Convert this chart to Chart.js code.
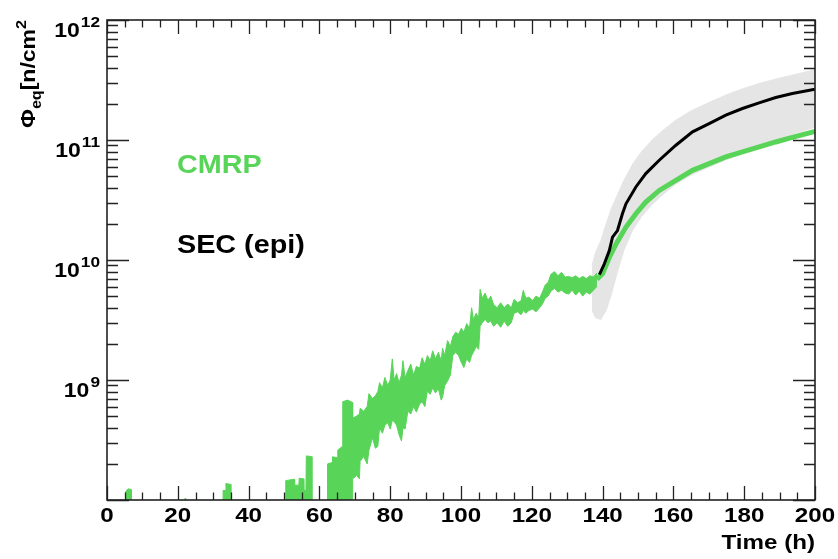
<!DOCTYPE html>
<html>
<head>
<meta charset="utf-8">
<script src="https://cdn.jsdelivr.net/npm/chart.js@4.4.1/dist/chart.umd.min.js"></script>
<style>
  html, body { margin: 0; padding: 0; background: #fff; }
  #wrap { width: 838px; height: 559px; }
</style>
</head>
<body>
<div id="wrap"><canvas id="c" width="838" height="559"></canvas></div>
<script>
// values below the axis floor (drawn, then clipped away)
const FLOOR = 5e7;

// CMRP measurement: min/max envelope per time step (h)
const greenT = [0, 5.2, 5.3, 6.0, 6.8, 6.9, 21.9, 22.0, 22.3, 22.4, 32.7, 32.8, 33.5, 33.6, 34.9, 35.0,
  50.4, 50.5, 52.9, 53.0, 54.2, 54.3, 55.5, 55.6, 56.2, 56.3, 57.8, 57.9, 62.2, 62.3, 63.6, 63.7,
  65.1, 65.2, 66.5, 66.6, 68.0, 69.3, 69.4, 70.5, 71.3, 71.5, 72.5, 73.5, 74.0, 75.0, 75.8, 76.5,
  77.0, 77.8, 78.5, 79.3, 80.0, 80.6, 81.1, 81.8, 82.5, 83.2, 83.6, 84.2, 85.0, 85.8, 86.6, 87.4,
  88.3, 89.0, 89.8, 90.5, 91.3, 92.0, 92.8, 93.6, 94.4, 94.8, 95.4, 96.2, 97.0, 97.7, 98.5, 99.3,
  100.1, 100.8, 101.6, 102.4, 103.0, 103.5, 104.3, 105.0, 105.4, 106.0, 106.8, 107.6, 108.4, 109.2,
  110.2, 111.2, 112.2, 113.2, 114.2, 115.0, 116.0, 117.0, 117.6, 118.3, 119.2, 120.2, 121.2, 122.2,
  123.0, 123.8, 124.6, 125.4, 126.4, 127.4, 128.4, 129.4, 130.4, 131.4, 132.4, 133.4, 134.4, 135.4,
  136.4, 137.4, 138.4];
const greenLo = [FLOOR, FLOOR, FLOOR, FLOOR, FLOOR, FLOOR, FLOOR, FLOOR, FLOOR, FLOOR, FLOOR, FLOOR, FLOOR, FLOOR, FLOOR, FLOOR,
  FLOOR, FLOOR, FLOOR, FLOOR, FLOOR, FLOOR, FLOOR, FLOOR, FLOOR, FLOOR, FLOOR, FLOOR, FLOOR, FLOOR, FLOOR, FLOOR,
  FLOOR, FLOOR, FLOOR, FLOOR, FLOOR, FLOOR, 1.5e8, 1.6e8, 1.5e8, 2.1e8, 2.3e8, 2.0e8, 2.6e8, 3.3e8, 2.7e8, 2.8e8,
  4.0e8, 3.6e8, 4.2e8, 4.4e8, 3.9e8, 4.6e8, 4.5e8, 4.2e8, 3.5e8, 3.1e8, 4.0e8, 3.9e8, 5.5e8, 5.2e8, 6.0e8, 5.4e8,
  6.3e8, 6.6e8, 6.0e8, 8.1e8, 7.6e8, 8.6e8, 7.8e8, 8.5e8, 6.8e8, 7.2e8, 9.0e8, 9.8e8, 1.1e9, 1.6e9, 1.7e9, 1.6e9,
  1.4e9, 1.27e9, 1.5e9, 1.4e9, 1.6e9, 1.7e9, 1.9e9, 1.8e9, 2.8e9, 3.0e9, 3.2e9, 3.0e9, 3.1e9, 2.8e9,
  3.0e9, 2.75e9, 3.1e9, 2.8e9, 3.0e9, 3.6e9, 3.7e9, 3.5e9, 3.8e9, 3.6e9, 3.8e9, 3.9e9, 3.7e9, 4.0e9,
  4.3e9, 4.8e9, 5.0e9, 5.5e9, 5.8e9, 5.4e9, 5.6e9, 5.3e9, 5.2e9, 5.6e9, 5.1e9, 5.5e9, 5.0e9, 5.4e9,
  5.2e9, 5.6e9, 6.0e9];
const greenHi = [FLOOR, FLOOR, 1.18e8, 1.24e8, 1.22e8, FLOOR, FLOOR, 1.03e8, 1.03e8, FLOOR, FLOOR, 1.2e8, 1.2e8, 1.37e8, 1.35e8, FLOOR,
  FLOOR, 1.45e8, 1.49e8, 1.33e8, 1.33e8, 1.52e8, 1.5e8, 1.2e8, 1.2e8, 2.33e8, 2.3e8, FLOOR, FLOOR, 2.0e8, 2.05e8, 2.29e8,
  2.25e8, 2.6e8, 2.8e8, 6.6e8, 6.8e8, 6.5e8, 4.8e8, 5.0e8, 5.2e8, 5.8e8, 5.5e8, 6.0e8, 7.7e8, 7.0e8, 7.4e8, 8.0e8,
  9.5e8, 8.6e8, 1.05e9, 9.0e8, 1.0e9, 1.5e9, 1.0e9, 1.13e9, 9.5e8, 1.1e9, 1.45e9, 1.05e9, 1.2e9, 1.36e9, 1.1e9, 1.3e9,
  1.25e9, 1.53e9, 1.35e9, 1.6e9, 1.45e9, 1.75e9, 1.5e9, 1.7e9, 1.45e9, 1.84e9, 1.6e9, 2.13e9, 1.9e9, 2.3e9, 2.5e9, 2.4e9,
  2.7e9, 2.5e9, 2.95e9, 2.7e9, 4.0e9, 3.2e9, 3.6e9, 3.3e9, 5.7e9, 4.8e9, 5.3e9, 4.6e9, 5.0e9, 4.25e9,
  4.0e9, 4.4e9, 4.0e9, 4.3e9, 4.0e9, 4.7e9, 4.4e9, 4.6e9, 5.6e9, 4.8e9, 4.9e9, 4.6e9, 5.0e9, 4.8e9,
  5.4e9, 6.2e9, 6.5e9, 7.6e9, 8.0e9, 7.4e9, 7.9e9, 7.2e9, 7.3e9, 7.1e9, 7.4e9, 7.0e9, 7.3e9, 7.0e9,
  7.4e9, 7.2e9, 7.8e9];

// CMRP after the ramp-up (smooth part)
const cmrpT = [138.4, 140.0, 141.9, 143.8, 146.6, 149.4, 152.2, 156.0, 160.7, 165.4, 170.1, 174.8, 179.5, 184.2, 188.9, 193.6, 200.0];
const cmrpVal = [6.9e9, 7.7e9, 1.05e10, 1.36e10, 1.88e10, 2.43e10, 3.04e10, 3.8e10, 4.61e10, 5.59e10, 6.35e10, 7.22e10, 7.95e10, 8.75e10, 9.63e10, 1.05e11, 1.18e11];

// SEC (epi) and its uncertainty band
const secT = [139.1, 140.5, 141.9, 142.8, 144.2, 145.6, 146.6, 149.4, 152.2, 156.0, 160.7, 165.4, 170.1, 174.8, 179.5, 184.2, 188.9, 193.6, 200.0];
const secVal = [7.57e9, 9.3e9, 1.2e10, 1.55e10, 1.76e10, 2.43e10, 2.94e10, 4.06e10, 5.25e10, 6.78e10, 9.04e10, 1.17e11, 1.37e11, 1.61e11, 1.83e11, 2.04e11, 2.26e11, 2.44e11, 2.65e11];
const bandT = [137.0, 138.0, 139.5, 141.0, 142.5, 144.0, 146.0, 148.5, 151.0, 154.0, 157.0, 160.5, 165.0, 170.0, 175.0, 180.0, 185.0, 190.0, 195.0, 200.0];
const bandHi = [9.0e9, 1.15e10, 1.45e10, 2.0e10, 2.7e10, 3.4e10, 4.6e10, 6.3e10, 8.0e10, 1.0e11, 1.2e11, 1.45e11, 1.75e11, 2.05e11, 2.38e11, 2.7e11, 3.0e11, 3.28e11, 3.55e11, 3.85e11];
const bandLo = [3.8e9, 3.3e9, 3.2e9, 3.8e9, 5.2e9, 7.6e9, 1.2e10, 1.78e10, 2.3e10, 2.9e10, 3.5e10, 4.25e10, 5.1e10, 5.95e10, 6.85e10, 7.8e10, 8.8e10, 1.02e11, 1.15e11, 1.28e11];

// axes
const xTicks = [0, 20, 40, 60, 80, 100, 120, 140, 160, 180, 200];
const yDecades = [9, 10, 11, 12];

const GREEN = '#58d458';
const GREY = '#e5e5e5';
const SX = 1.15; // horizontal text stretch
const FONT = '"Liberation Sans", Arial, Helvetica, sans-serif';

const pts = (xs, ys) => xs.map((x, i) => ({ x: x, y: ys[i] }));

function txt(ctx, s, x, y, size, align, color) {
  ctx.save();
  ctx.font = 'bold ' + size + 'px ' + FONT;
  ctx.fillStyle = color || '#000';
  const w = ctx.measureText(s).width * SX;
  const x0 = align === 'center' ? x - w / 2 : align === 'right' ? x - w : x;
  ctx.translate(x0, y);
  ctx.scale(SX, 1);
  ctx.textAlign = 'left';
  ctx.textBaseline = 'alphabetic';
  ctx.fillText(s, 0, 0);
  ctx.restore();
  return w;
}

const rootFrame = {
  id: 'rootFrame',
  afterDatasetsDraw(chart) {
    const ctx = chart.ctx;
    const a = chart.chartArea;
    const xs = chart.scales.x, ys = chart.scales.y;
    ctx.save();
    ctx.strokeStyle = '#222';
    ctx.lineWidth = 1.3;

    // x ticks, bottom and top, pointing inward
    for (let t = 0; t <= 200; t += 5) {
      const px = Math.round(xs.getPixelForValue(t)) + 0.5;
      const len = t % 20 === 0 ? 14 : 7.5;
      ctx.beginPath();
      ctx.moveTo(px, a.bottom); ctx.lineTo(px, a.bottom - len);
      ctx.moveTo(px, a.top); ctx.lineTo(px, a.top + len);
      ctx.stroke();
    }
    // y ticks (log), left and right
    for (let d = 8; d <= 12; d++) {
      for (let m = 1; m <= 9; m++) {
        const v = m * Math.pow(10, d);
        if (v < ys.min || v > ys.max) continue;
        const py = Math.round(ys.getPixelForValue(v)) + 0.5;
        const len = m === 1 ? 22 : 11;
        ctx.beginPath();
        ctx.moveTo(a.left, py); ctx.lineTo(a.left + len, py);
        ctx.moveTo(a.right, py); ctx.lineTo(a.right - len, py);
        ctx.stroke();
      }
    }
    // frame
    ctx.lineWidth = 1.6;
    ctx.strokeRect(a.left, a.top, a.right - a.left, a.bottom - a.top);
    ctx.restore();

    // tick labels
    xTicks.forEach(t => txt(ctx, String(t), xs.getPixelForValue(t), 522, 21, 'center'));
    yDecades.forEach(d => {
      const py = ys.getPixelForValue(Math.pow(10, d));
      ctx.font = 'bold 15px ' + FONT;
      const ew = ctx.measureText(String(d)).width * SX;
      txt(ctx, String(d), 100 - ew, py + 7, 15, 'left');
      txt(ctx, '10', 100 - ew - 1, py + 17, 20, 'right');
    });

    // axis titles
    txt(ctx, 'Time (h)', a.right, 549, 21, 'right');
    ctx.save();
    ctx.translate(35, 128);
    ctx.rotate(-Math.PI / 2);
    let x = 0;
    x += txt(ctx, 'Φ', x, 0, 20, 'left');
    x += txt(ctx, 'eq', x, 6, 14, 'left');
    x += txt(ctx, '[n/cm', x, 0, 20, 'left');
    txt(ctx, '2', x, -9, 14, 'left');
    ctx.restore();

    // legend texts
    txt(ctx, 'CMRP', 177, 173, 25, 'left', GREEN);
    txt(ctx, 'SEC (epi)', 177, 253, 25, 'left', '#000');
  }
};

const line = { showLine: true, pointRadius: 0, tension: 0 };

new Chart(document.getElementById('c'), {
  type: 'scatter',
  data: {
    datasets: [
      Object.assign({ data: pts(greenT, greenHi), borderColor: GREEN, backgroundColor: GREEN, borderWidth: 1, fill: '+1', order: 2 }, line),
      Object.assign({ data: pts(greenT, greenLo), borderColor: GREEN, borderWidth: 1, fill: false, order: 2 }, line),
      Object.assign({ data: pts(cmrpT, cmrpVal), borderColor: GREEN, borderWidth: 5, fill: false, order: 2 }, line),
      Object.assign({ data: pts(secT, secVal), borderColor: '#000', borderWidth: 3, fill: false, order: 1 }, line),
      Object.assign({ data: pts(bandT, bandHi), borderColor: GREY, backgroundColor: GREY, borderWidth: 1, fill: '+1', order: 3 }, line),
      Object.assign({ data: pts(bandT, bandLo), borderColor: GREY, borderWidth: 1, fill: false, order: 3 }, line)
    ]
  },
  options: {
    responsive: false,
    devicePixelRatio: 1,
    animation: false,
    layout: { padding: { left: 107, right: 23, top: 20, bottom: 59 } },
    plugins: { legend: { display: false }, tooltip: { enabled: false } },
    scales: {
      x: { type: 'linear', min: 0, max: 200, display: false },
      y: { type: 'logarithmic', min: 1e8, max: 1e12, display: false }
    }
  },
  plugins: [rootFrame]
});
</script>
</body>
</html>
